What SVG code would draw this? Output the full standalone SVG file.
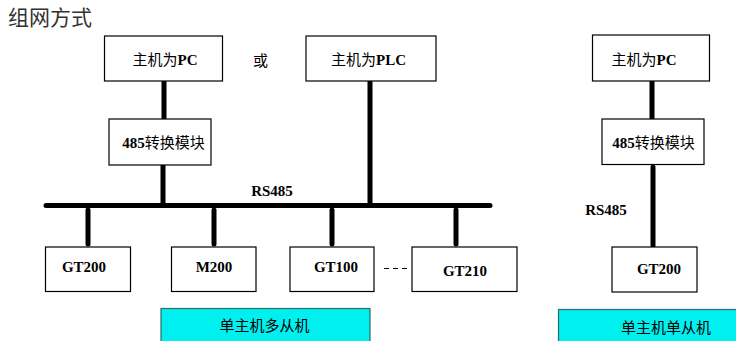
<svg xmlns="http://www.w3.org/2000/svg" width="736" height="341" viewBox="0 0 736 341">
<style>
.box{fill:#fff;stroke:#000;stroke-width:1.2}
.tag{fill:#00F0F0;stroke:#2E6B6B;stroke-width:1.2}
.t{font-family:"Liberation Serif","Noto Sans CJK SC",serif;font-size:15px;fill:#000;text-anchor:middle}
.b{font-weight:bold}
.cjk{font-family:"Noto Sans CJK SC","Liberation Serif",serif;font-size:15px;fill:#000;text-anchor:middle}
.w{stroke:#000;stroke-width:5;stroke-linecap:round;fill:none}
</style>
<rect width="736" height="341" fill="#fff"/>
<text x="8" y="25" style="font-family:'Noto Sans CJK SC',sans-serif;font-size:21px;fill:#333">组网方式</text>
<g id="connectors">
<line class="w" x1="164" y1="81" x2="164" y2="118"/>
<line class="w" x1="163" y1="166" x2="163" y2="204"/>
<line class="w" x1="370" y1="81" x2="370" y2="204"/>
<line class="w" x1="46" y1="205.5" x2="490" y2="205.5"/>
<line class="w" x1="88" y1="210" x2="88" y2="244"/>
<line class="w" x1="214" y1="210" x2="214" y2="244"/>
<line class="w" x1="332" y1="210" x2="332" y2="244"/>
<line class="w" x1="456" y1="210" x2="456" y2="244"/>
<line x1="384" y1="268.5" x2="408" y2="268.5" stroke="#000" stroke-width="1.2" stroke-dasharray="5,4"/>
<line class="w" x1="652" y1="81" x2="652" y2="118"/>
<line class="w" x1="653" y1="167" x2="653" y2="246"/>
</g>
<text class="cjk" x="260.5" y="66">或</text>
<text class="t b" x="272" y="196">RS485</text>
<text class="t b" x="606" y="215">RS485</text>
<g id="pc1">
<rect class="box" x="104.5" y="36" width="118" height="45"/>
<text class="t" x="165" y="65"><tspan style="font-family:'Noto Sans CJK SC',serif">主机为</tspan><tspan class="b">PC</tspan></text>
</g>
<g id="plc">
<rect class="box" x="306" y="36" width="130" height="45"/>
<text class="t" x="368.5" y="65"><tspan style="font-family:'Noto Sans CJK SC',serif">主机为</tspan><tspan class="b">PLC</tspan></text>
</g>
<g id="conv1">
<rect class="box" x="109" y="119" width="102" height="46"/>
<text class="t" x="163.5" y="148"><tspan class="b">485</tspan><tspan style="font-family:'Noto Sans CJK SC',serif">转换模块</tspan></text>
</g>
<g id="gt200a">
<rect class="box" x="45.5" y="247" width="85" height="44.5"/>
<text class="t b" x="84" y="272">GT200</text>
</g>
<g id="m200">
<rect class="box" x="171.5" y="247" width="84.5" height="44.5"/>
<text class="t b" x="214" y="272">M200</text>
</g>
<g id="gt100">
<rect class="box" x="290" y="247" width="84" height="44.5"/>
<text class="t b" x="336" y="272">GT100</text>
</g>
<g id="gt210">
<rect class="box" x="412" y="247" width="105" height="44.5"/>
<text class="t b" x="465" y="276">GT210</text>
</g>
<g id="tag1">
<rect class="tag" x="161" y="308.5" width="209" height="40"/>
<text class="cjk" x="264.5" y="331">单主机多从机</text>
</g>
<g id="pc2">
<rect class="box" x="592.5" y="35" width="117" height="46"/>
<text class="t" x="644" y="65"><tspan style="font-family:'Noto Sans CJK SC',serif">主机为</tspan><tspan class="b">PC</tspan></text>
</g>
<g id="conv2">
<rect class="box" x="602" y="119" width="102" height="45.5"/>
<text class="t" x="653.5" y="148"><tspan class="b">485</tspan><tspan style="font-family:'Noto Sans CJK SC',serif">转换模块</tspan></text>
</g>
<g id="gt200b">
<rect class="box" x="612" y="247" width="85" height="45"/>
<text class="t b" x="659" y="274">GT200</text>
</g>
<g id="tag2">
<rect class="tag" x="558.5" y="309.5" width="190" height="40"/>
<text class="cjk" x="666" y="333">单主机单从机</text>
</g>
</svg>
